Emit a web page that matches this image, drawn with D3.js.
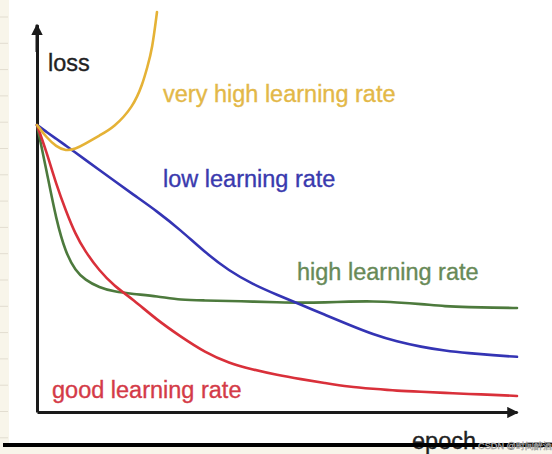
<!DOCTYPE html>
<html>
<head>
<meta charset="utf-8">
<script src="https://cdn.jsdelivr.net/npm/d3@7"></script>
<style>
  html, body { margin: 0; padding: 0; background: #ffffff; }
  svg { display: block; }
  text { font-family: "Liberation Sans", Arial, sans-serif; }
</style>
</head>
<body>
<svg id="chart" width="552" height="454"></svg>
<script>
// ---- data (epoch 0..100, loss 0..100 arbitrary units) ----
const gridEpochs = [0, 2, 4, 6, 8, 10, 13, 16, 20, 25, 30, 35, 40, 45, 50, 55, 60, 65, 70, 75, 80, 85, 90, 95, 100];
const lowLoss  = [71.75, 70, 68.3, 66.6, 64.9, 63.1, 60.5, 57.9, 54.4, 50.2, 45.4, 39.9, 35.3, 31.9, 29.3, 26.8, 24.3, 21.8, 19.4, 17.6, 16.3, 15.3, 14.7, 14.2, 13.8];
const highLoss = [71.75, 60.25, 48, 39.7, 35.4, 33, 31.1, 30.1, 29.5, 28.95, 28, 27.9, 27.75, 27.6, 27.45, 27.3, 27.4, 27.6, 27.7, 27.4, 27, 26.4, 26.2, 26.1, 26];
const goodLoss = [71.75, 65, 56.9, 50.35, 44.45, 40.2, 35.3, 31.6, 28.15, 23, 18.8, 14.9, 12.2, 10.6, 9.25, 8.2, 7.25, 6.3, 5.8, 5.3, 5.05, 4.8, 4.5, 4.3, 4];
const veryHighEpochs = [0, 2, 4, 6, 8, 10, 13, 16, 20, 22, 23, 24, 25];
const veryHighLoss   = [71.75, 68.6, 66.35, 65.25, 65.75, 67, 69.15, 71.1, 76.25, 82, 86.3, 90.7, 100];
const labels = ["very high learning rate", "low learning rate", "high learning rate", "good learning rate"];
const axisLabels = ["loss", "epoch"];

// ---- layout ----
const svg = d3.select("#chart");
const x = d3.scaleLinear().domain([0, 100]).range([37, 517]);
const y = d3.scaleLinear().domain([0, 100]).range([412, 12]);

// left paper margin strip
svg.append("rect").attr("x", 0).attr("y", 0).attr("width", 9).attr("height", 454).attr("fill", "#f8f5ea");
svg.selectAll("line.rule").data(d3.range(17, 440, 26.3)).enter().append("line")
  .attr("x1", 0).attr("x2", 8).attr("y1", d => d).attr("y2", d => d)
  .attr("stroke", "#e2ddd0").attr("stroke-width", 1);
// bottom paper strip
svg.append("rect").attr("x", 0).attr("y", 446).attr("width", 552).attr("height", 8).attr("fill", "#f8f5ea");

// arrow markers
const defs = svg.append("defs");
defs.append("marker").attr("id", "arr").attr("viewBox", "0 0 10 10")
  .attr("refX", 9).attr("refY", 5).attr("markerWidth", 4.2).attr("markerHeight", 3.8)
  .attr("markerUnits", "strokeWidth").attr("orient", "auto")
  .append("path").attr("d", "M0,0 L10,5 L0,10 Z").attr("fill", "#1a1a1a");

// axes (no ticks)
const xAxis = svg.append("g").attr("transform", `translate(0,${y(0)})`)
  .call(d3.axisBottom(x).tickValues([]).tickSizeOuter(0));
xAxis.select(".domain").attr("stroke", "#1a1a1a").attr("stroke-width", 3).attr("marker-end", "url(#arr)");
const yAxisScale = y.copy().domain([0, 96.8]).range([y(0), y(96.8)]);
const yAxis = svg.append("g").attr("transform", `translate(${x(0)},0)`)
  .call(d3.axisLeft(yAxisScale).tickValues([]).tickSizeOuter(0));
yAxis.select(".domain").attr("stroke", "#1a1a1a").attr("stroke-width", 3);
svg.append("line").attr("x1", x(0)).attr("x2", x(0)).attr("y1", y(90)).attr("y2", y(96.8))
  .attr("stroke", "#1a1a1a").attr("stroke-width", 3).attr("marker-end", "url(#arr)");

// curves
const line = d3.line().curve(d3.curveBasis).x(d => x(d[0])).y(d => y(d[1]));
const series = [
  { ep: gridEpochs, v: highLoss, c: "#4d7a3d" },
  { ep: gridEpochs, v: goodLoss, c: "#d9303a" },
  { ep: gridEpochs, v: lowLoss, c: "#3434b4" },
  { ep: veryHighEpochs, v: veryHighLoss, c: "#e5b236" }
];
series.forEach(s => {
  svg.append("path").datum(s.ep.map((e, i) => [e, s.v[i]]))
    .attr("d", line).attr("fill", "none").attr("stroke", s.c)
    .attr("stroke-width", 2.6).attr("stroke-linejoin", "round").attr("stroke-linecap", "round");
});

// curve labels
const labelStyle = [
  { t: labels[0], x: 163, y: 102, c: "#e3b848" },
  { t: labels[1], x: 163, y: 187, c: "#3a3aae" },
  { t: labels[2], x: 297, y: 280, c: "#688a58" },
  { t: labels[3], x: 52, y: 398, c: "#d43b48" }
];
svg.selectAll("text.lab").data(labelStyle).enter().append("text")
  .attr("class", "lab").attr("x", d => d.x).attr("y", d => d.y)
  .attr("fill", d => d.c).attr("stroke", d => d.c).attr("stroke-width", 0.35)
  .attr("font-size", 23.5).text(d => d.t);

// axis labels
svg.append("text").attr("x", 48).attr("y", 71).attr("font-size", 23.5)
  .attr("fill", "#222").attr("stroke", "#222").attr("stroke-width", 0.35).text(axisLabels[0]);
svg.append("text").attr("x", 412).attr("y", 449).attr("font-size", 23.5)
  .attr("fill", "#222").attr("stroke", "#222").attr("stroke-width", 0.35).text(axisLabels[1]);

// thick bottom rule
svg.append("line").attr("x1", 3).attr("x2", 552).attr("y1", 445).attr("y2", 445)
  .attr("stroke", "#000").attr("stroke-width", 4);

// watermark
svg.append("text").attr("x", 478).attr("y", 449).attr("font-size", 9.2)
  .attr("fill", "#c8c8c8").attr("stroke", "#8a8a8a").attr("stroke-width", 0.35)
  .text("CSDN @时间醉酒");
</script>
</body>
</html>
